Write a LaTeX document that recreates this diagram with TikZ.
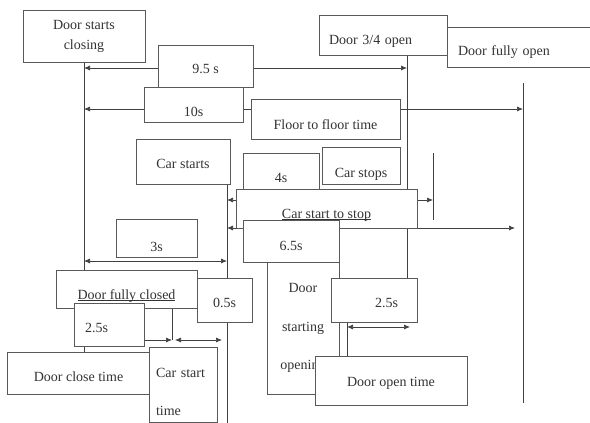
\documentclass[tikz,border=0pt]{standalone}
\usepackage{fontspec}
\setmainfont{Liberation Serif}
\usetikzlibrary{arrows.meta}
\usetikzlibrary{backgrounds}

\begin{document}
\begin{tikzpicture}[x=1pt, y=-1pt,
  box/.style={rectangle, draw=black!65, fill=white, line width=0.6pt, inner sep=0pt, text=black!80, font=\fontsize{14}{17}\selectfont},
  tb/.style={text depth=3pt, text height=#1},
  rule/.style={draw=black!75, line width=0.7pt},
  span/.style={rule, {Latex[length=6pt,width=5pt]}-{Latex[length=6pt,width=5pt]}},
  tip/.style={rule, -{Latex[length=6pt,width=5pt]}}]
\useasboundingbox (0,0) rectangle (590,423);
\node [box, minimum width=122pt, minimum height=52pt, align=center, font=\fontsize{14}{20}\selectfont] (closing) at (84,36) {Door starts\\closing};
\node [box, tb=19pt, minimum width=95pt, minimum height=42pt] (t95) at (205.5,66) {9.5 s};
\node [box, tb=26pt, minimum width=99pt, minimum height=35pt] (t10) at (193.5,104.5) {10s};
\node [box, tb=23pt, minimum width=128pt, minimum height=40pt, align=left, text width=108pt] (open34) at (383,35) {Door 3/4 open};
\node [box, tb=19pt, minimum width=148pt, minimum height=40pt, align=left, text width=126pt] (fullopen) at (521,47) {Door fully open};
\node [box, tb=23pt, minimum width=149pt, minimum height=40pt] (floor) at (325.5,119) {Floor to floor time};
\node [box, tb=16pt, minimum width=94pt, minimum height=45pt] (carstarts) at (183,161.5) {Car starts};
\node [box, tb=14pt, minimum width=76pt, minimum height=47pt] (t4) at (281,176.5) {4s};
\node [box, tb=26pt, minimum width=78pt, minimum height=37pt, line width=0.9pt] (carstops) at (361,165.5) {Car stops};
\node [box, tb=22pt, minimum width=181pt, minimum height=39pt] (cstop) at (326.5,208.5) {\underline{\smash{Car start to stop}}};
\node [box, tb=21pt, minimum width=96pt, minimum height=42pt] (t65) at (291,241) {6.5s};
\node [box, minimum width=72pt, minimum height=132pt, align=center] (dso) at (303,328) {Door\\[21.5pt]starting\\[21.5pt]opening};
\node [box, tb=14pt, minimum width=152pt, minimum height=49pt] (dot) at (391,380.5) {Door open time};
\node [box, tb=17pt, minimum width=86pt, minimum height=44pt, align=right, text width=48pt] (t25r) at (374,300) {2.5s};
\node [box, tb=29pt, minimum width=81pt, minimum height=38pt] (t3) at (156.5,238) {3s};
\node [box, tb=23pt, minimum width=141pt, minimum height=38pt] (dfc) at (126.5,289) {\underline{\smash{Door fully closed}}};
\node [box, tb=18pt, minimum width=70pt, minimum height=43pt, align=left, text width=48pt] (t25l) at (109,324.5) {2.5s};
\node [box, tb=17pt, minimum width=55pt, minimum height=44pt] (t05) at (224.5,300) {0.5s};
\node [box, tb=19pt, minimum width=143pt, minimum height=42pt] (dct) at (78.5,373) {Door close time};
\node [box, minimum width=68pt, minimum height=75pt, align=left, text width=54pt, text height=24pt] (cst) at (183,384.5) {Car start\\[21pt]time};
\coordinate (c95a) at (84,68);
\coordinate (c95b) at (407,68);
\coordinate (c10a) at (84,109);
\coordinate (c10b) at (523,109);
\coordinate (post) at (523,83);
\coordinate (posb) at (523,403);
\coordinate (s4t) at (433,153);
\coordinate (s4b) at (433,220);
\coordinate (c4a) at (227,200);
\coordinate (c4b) at (433,200);
\coordinate (c65a) at (227,228);
\coordinate (c65b) at (515,228);
\coordinate (c3a) at (84,261);
\coordinate (c3b) at (227,261);
\coordinate (csb) at (227,423);
\coordinate (k) at (172,340);
\coordinate (c05a) at (175,340);
\coordinate (c05b) at (222,340);
\coordinate (o) at (347,327);
\coordinate (c25b) at (410,327);
\begin{scope}[on background layer]
\draw [rule] (closing.south) to (closing.south |- dfc.north);
\draw [rule] (t25l.south -| closing.south) to (dct.north -| closing.south);
\draw [rule] (open34.south -| c95b) to (t25r.north -| c95b);
\draw [rule] (post) to (posb);
\draw [rule] (s4t) to (s4b);
\draw [rule] (carstarts.south -| c4a) to (csb);
\draw [rule] (dfc.south -| k) to (k);
\draw [rule] (t25r.south -| o) to (dot.north -| o);
\draw [span] (c95a) to (c95b);
\draw [span] (c10a) to (c10b);
\draw [span] (c4a) to (c4b);
\draw [span] (c65a) to (c65b);
\draw [span] (c3a) to (c3b);
\draw [tip] (t25l.east |- k) to (k);
\draw [span] (c05a) to (c05b);
\draw [span] (o) to (c25b);
\end{scope}
\end{tikzpicture}
\end{document}
